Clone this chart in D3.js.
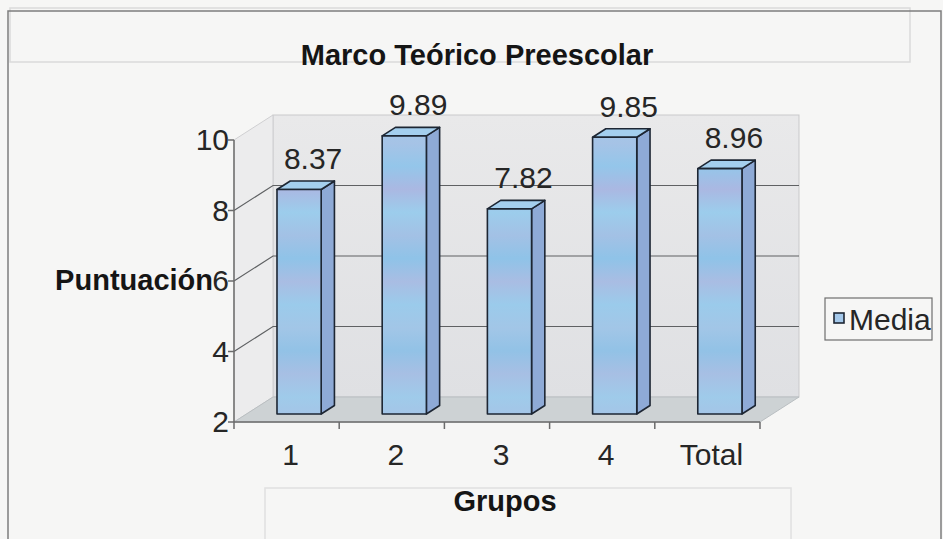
<!DOCTYPE html>
<html>
<head>
<meta charset="utf-8">
<script src="https://cdn.jsdelivr.net/npm/d3@7"></script>
<style>
  html, body { margin: 0; padding: 0; background: #f6f6f5; }
  svg { display: block; }
  text { font-family: "Liberation Sans", Arial, sans-serif; }
</style>
</head>
<body>
<div id="chart"></div>
<script>
// data
var categories = ["1", "2", "3", "4", "Total"];
var medias = [8.37, 9.89, 7.82, 9.85, 8.96];
var yTicks = [2, 4, 6, 8, 10];
var gridValues = [4, 6, 8];
var seriesName = "Media";

var width = 943, height = 539;

// 3d box geometry
var DX = 39, DY = -25;        // depth vector, front to back
var f0 = 0.32, f1 = 0.66;     // bar front / back position in the depth

var svg = d3.select("#chart")
    .append("svg")
    .attr("width", width)
    .attr("height", height);

var x = d3.scaleBand()
    .domain(categories)
    .range([234, 760])
    .padding(0);

var y = d3.scaleLinear()
    .domain([2, 10])
    .range([422, 140]);

var barW = x.bandwidth() * 0.42;

function pt(px, py, f) {
    return [px + f * DX, py + f * DY];
}
function poly(points) {
    return points.map(function(p) { return p[0] + "," + p[1]; }).join(" ");
}

var defs = svg.append("defs");

// striped blue front face like the scanned bars
var stripes = ["#9fcbea", "#a6c3e6", "#94c6ea", "#aab8e2", "#9ccdec", "#a3c1e5",
               "#8fc3e8", "#a9bde3", "#9bcbeb", "#a2c6e7", "#92c2e6", "#a7bfe4"];
var grad = defs.append("linearGradient")
    .attr("id", "front")
    .attr("x1", 0).attr("x2", 0)
    .attr("gradientUnits", "userSpaceOnUse")
    .attr("y1", 120).attr("y2", 420);
var nRep = 14;
for (var k = 0; k < nRep; k++) {
    grad.append("stop")
        .attr("offset", (k / (nRep - 1)))
        .attr("stop-color", stripes[k % stripes.length]);
}
var wallGrad = defs.append("linearGradient")
    .attr("id", "wall")
    .attr("x1", 0).attr("y1", 0).attr("x2", 0).attr("y2", 1);
wallGrad.append("stop").attr("offset", 0).attr("stop-color", "#e9e9ea");
wallGrad.append("stop").attr("offset", 1).attr("stop-color", "#dfe0e3");

// faint frames showing through from the other side of the page
svg.append("rect")
    .attr("x", 10).attr("y", 8).attr("width", 900).attr("height", 54)
    .attr("fill", "none").attr("stroke", "#dadada").attr("stroke-width", 1.5);
svg.append("rect")
    .attr("x", 265).attr("y", 488).attr("width", 526).attr("height", 80)
    .attr("fill", "none").attr("stroke", "#e0e0e0").attr("stroke-width", 1.5);

// chart border
svg.append("rect")
    .attr("x", 8).attr("y", 11).attr("width", 933).attr("height", 560)
    .attr("fill", "none")
    .attr("stroke", "#7d7d7d")
    .attr("stroke-width", 1.5);

var x0 = x.range()[0], x1 = x.range()[1];
var yb = y(2), yt = y(10);

// back wall
var bw0 = pt(x0, yt, 1), bw1 = pt(x1, yb, 1);
svg.append("rect")
    .attr("x", bw0[0]).attr("y", bw0[1])
    .attr("width", bw1[0] - bw0[0]).attr("height", bw1[1] - bw0[1])
    .attr("fill", "url(#wall)")
    .attr("stroke", "#c9c9cb").attr("stroke-width", 1);

// left side wall
svg.append("polygon")
    .attr("points", poly([[x0, yt], pt(x0, yt, 1), pt(x0, yb, 1), [x0, yb]]))
    .attr("fill", "#ececed")
    .attr("stroke", "#cfcfd1").attr("stroke-width", 1);

// floor
svg.append("polygon")
    .attr("points", poly([[x0, yb], [x1, yb], pt(x1, yb, 1), pt(x0, yb, 1)]))
    .attr("fill", "#cdd2d4")
    .attr("stroke", "#b9bec1").attr("stroke-width", 1);

// gridlines: diagonal on the side wall, then across the back wall
var grid = svg.append("g").attr("stroke", "#5f6163").attr("stroke-width", 1.2).attr("fill", "none");
gridValues.forEach(function(v) {
    var a = [x0, y(v)], b = pt(x0, y(v), 1), c = pt(x1, y(v), 1);
    grid.append("polyline").attr("points", poly([a, b, c]));
});

// bars
var bars = svg.append("g")
    .selectAll("g.bar")
    .data(categories.map(function(c, i) { return { cat: c, value: medias[i] }; }))
    .enter()
    .append("g")
    .attr("class", "bar");

bars.each(function(d) {
    var g = d3.select(this);
    var cx = x(d.cat) + x.bandwidth() / 2;
    var l = cx - barW / 2, r = cx + barW / 2;
    var top = y(d.value), bot = y(2);
    var fl = pt(l, top, f0), fr = pt(r, top, f0), frb = pt(r, bot, f0), flb = pt(l, bot, f0);
    var bl = pt(l, top, f1), br = pt(r, top, f1), brb = pt(r, bot, f1);
    // side
    g.append("polygon")
        .attr("points", poly([fr, br, brb, frb]))
        .attr("fill", "#8eaad6")
        .attr("stroke", "#1d2633").attr("stroke-width", 1.6).attr("stroke-linejoin", "round");
    // top
    g.append("polygon")
        .attr("points", poly([fl, bl, br, fr]))
        .attr("fill", "#a4cfee")
        .attr("stroke", "#1d2633").attr("stroke-width", 1.6).attr("stroke-linejoin", "round");
    // front
    g.append("polygon")
        .attr("points", poly([fl, fr, frb, flb]))
        .attr("fill", "url(#front)")
        .attr("stroke", "#1d2633").attr("stroke-width", 1.6).attr("stroke-linejoin", "round");
    // value label
    g.append("text")
        .attr("x", cx + f0 * DX + 14)
        .attr("y", pt(l, top, f1)[1] - 12)
        .attr("text-anchor", "middle")
        .attr("fill", "#262626")
        .style("font-size", "30px")
        .text(d.value.toFixed(2));
});

// front value axis
var axisColor = "#6b6b6b";
svg.append("line")
    .attr("x1", x0).attr("x2", x0).attr("y1", yt).attr("y2", yb)
    .attr("stroke", axisColor).attr("stroke-width", 1.5);
svg.append("g").selectAll("line")
    .data(yTicks).enter().append("line")
    .attr("x1", x0 - 6).attr("x2", x0)
    .attr("y1", function(d) { return y(d); })
    .attr("y2", function(d) { return y(d); })
    .attr("stroke", axisColor).attr("stroke-width", 1.5);
svg.append("g").selectAll("text")
    .data(yTicks).enter().append("text")
    .attr("x", x0 - 5)
    .attr("y", function(d) { return y(d) + 10; })
    .attr("text-anchor", "end")
    .attr("fill", "#262626")
    .style("font-size", "30px")
    .text(function(d) { return d; });

// category axis
svg.append("line")
    .attr("x1", x0).attr("x2", x1).attr("y1", yb).attr("y2", yb)
    .attr("stroke", axisColor).attr("stroke-width", 1.5);
var edges = categories.map(function(c) { return x(c); }).concat([x1]);
svg.append("g").selectAll("line")
    .data(edges).enter().append("line")
    .attr("x1", function(d) { return d; })
    .attr("x2", function(d) { return d; })
    .attr("y1", yb).attr("y2", yb + 7)
    .attr("stroke", axisColor).attr("stroke-width", 1.5);
svg.append("g").selectAll("text")
    .data(categories).enter().append("text")
    .attr("x", function(d) { return x(d) + x.bandwidth() / 2 + 4; })
    .attr("y", yb + 43)
    .attr("text-anchor", "middle")
    .attr("fill", "#262626")
    .style("font-size", "30px")
    .text(function(d) { return d; });

// titles
svg.append("text")
    .attr("x", 477).attr("y", 65)
    .attr("text-anchor", "middle")
    .attr("fill", "#151515")
    .style("font-size", "29px").style("font-weight", "bold")
    .text("Marco Teórico Preescolar");
svg.append("text")
    .attr("x", 505).attr("y", 511)
    .attr("text-anchor", "middle")
    .attr("fill", "#151515")
    .style("font-size", "29px").style("font-weight", "bold")
    .text("Grupos");
svg.append("text")
    .attr("x", 213).attr("y", 290)
    .attr("text-anchor", "end")
    .attr("fill", "#151515")
    .style("font-size", "29px").style("font-weight", "bold")
    .text("Puntuación");

// legend
var lg = svg.append("g");
lg.append("rect")
    .attr("x", 825).attr("y", 298).attr("width", 107).attr("height", 42)
    .attr("fill", "#f6f6f5")
    .attr("stroke", "#6e6e6e").attr("stroke-width", 1.2);
lg.append("rect")
    .attr("x", 834).attr("y", 313).attr("width", 10).attr("height", 10)
    .attr("fill", "#a4c8ea")
    .attr("stroke", "#1d2633").attr("stroke-width", 1.6);
lg.append("text")
    .attr("x", 849).attr("y", 330)
    .attr("fill", "#262626")
    .style("font-size", "30px")
    .text(seriesName);
</script>
</body>
</html>
